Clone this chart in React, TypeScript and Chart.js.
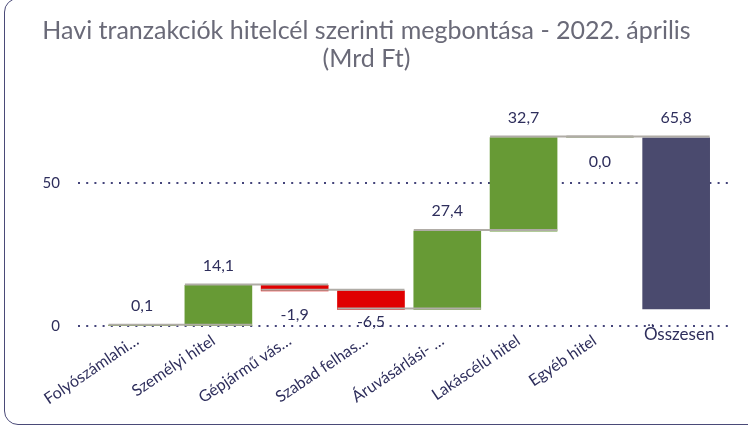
import React, { useEffect, useRef } from "react";
import { Chart, registerables } from "chart.js";

Chart.register(...registerables);

const categories = [
  "Folyószámlahi…",
  "Személyi hitel",
  "Gépjármű vás…",
  "Szabad felhas…",
  "Áruvásárlási- …",
  "Lakáscélú hitel",
  "Egyéb hitel",
  "Összesen",
];
const changes = [0.1, 14.1, -1.9, -6.5, 27.4, 32.7, 0.0];
const totalValue = 65.8;
const totalBase = 6.0;
const valueLabels = ["0,1", "14,1", "-1,9", "-6,5", "27,4", "32,7", "0,0", "65,8"];
const titleLines = [
  "Havi tranzakciók hitelcél szerinti megbontása - 2022. április",
  "(Mrd Ft)",
];

const ranges: [number, number][] = [];
{
  let run = 0;
  for (const c of changes) {
    ranges.push([run, run + c]);
    run += c;
  }
  ranges.push([totalBase, totalValue]);
}

const colorUp = "#679a35";
const colorDown = "#e00000";
const colorTotal = "#4a4a6e";
const textColor = "#2e2e5c";
const connectorColor = "#b0aca6";
const FONT = "Lato";

const barColors = ranges.map((_, i) =>
  i === ranges.length - 1 ? colorTotal : changes[i] < 0 ? colorDown : colorUp
);

const extras = {
  id: "waterfallExtras",
  afterDatasetsDraw(chart: any) {
    const ctx = chart.ctx as CanvasRenderingContext2D;
    const bars = chart.getDatasetMeta(0).data as any[];
    const ys = chart.scales.y;
    const zeroPx = ys.getPixelForValue(0);

    // connector lines
    ctx.save();
    ctx.strokeStyle = connectorColor;
    ctx.lineWidth = 2;
    for (let i = 0; i < changes.length; i++) {
      const level = ranges[i][1];
      const y = ys.getPixelForValue(level) - 1;
      const x0 = bars[i].x - bars[i].width / 2;
      const x1 = bars[i + 1].x + bars[i + 1].width / 2;
      ctx.beginPath();
      ctx.moveTo(x0, y);
      ctx.lineTo(x1, y);
      ctx.stroke();
    }
    ctx.restore();

    // value labels
    ctx.save();
    ctx.font = `16px ${FONT}`;
    ctx.fillStyle = textColor;
    ctx.textAlign = "center";
    ctx.textBaseline = "middle";
    for (let i = 0; i < ranges.length; i++) {
      const [a, b] = ranges[i];
      const up = i === ranges.length - 1 || changes[i] > 0;
      const top = ys.getPixelForValue(Math.max(a, b));
      const bottom = ys.getPixelForValue(Math.min(a, b));
      const y = up ? top - 20 : Math.min(bottom + 24, zeroPx - 4);
      ctx.fillText(valueLabels[i], bars[i].x, y);
    }
    ctx.restore();

    // category labels
    ctx.save();
    ctx.fillStyle = textColor;
    ctx.font = `16px ${FONT}`;
    for (let i = 0; i < categories.length - 1; i++) {
      ctx.save();
      ctx.translate(bars[i].x - 5, zeroPx + 13);
      ctx.rotate((-34 * Math.PI) / 180);
      ctx.textAlign = "right";
      ctx.textBaseline = "middle";
      ctx.fillText(categories[i], 0, 0);
      ctx.restore();
    }
    const last = categories.length - 1;
    ctx.font = `17px ${FONT}`;
    ctx.textAlign = "center";
    ctx.textBaseline = "top";
    ctx.fillText(categories[last], bars[last].x + 3, zeroPx);
    ctx.restore();
  },
};

export default function App() {
  const canvasRef = useRef<HTMLCanvasElement | null>(null);

  useEffect(() => {
    if (!canvasRef.current) return;
    Chart.defaults.font.family = FONT;
    const chart = new Chart(canvasRef.current, {
      type: "bar",
      data: {
        datasets: [
          {
            data: ranges.map((r, i) => ({ x: i, y: r })) as any,
            backgroundColor: barColors,
            borderWidth: 0,
            barThickness: 67,
          },
        ],
      },
      options: {
        animation: false,
        responsive: false,
        layout: { padding: { left: 0, right: 15, top: 0, bottom: 100 } },
        plugins: {
          legend: { display: false },
          tooltip: { enabled: false },
          title: {
            display: true,
            text: titleLines,
            color: "#6a6a78",
            font: { family: FONT, size: 25, weight: "normal", lineHeight: 1.13 },
            padding: { top: 17, bottom: 23.7 },
          },
        },
        scales: {
          x: {
            type: "linear",
            min: -0.84,
            max: 7.745,
            offset: false,
            display: false,
            ticks: { stepSize: 1, includeBounds: false },
          },
          y: {
            min: 0,
            max: 80,
            afterFit: (scale: any) => {
              scale.width = 78;
            },
            ticks: {
              stepSize: 50,
              includeBounds: false,
              padding: 18,
              color: textColor,
              font: { family: FONT, size: 15 },
            },
            grid: {
              color: "#44447a",
              lineWidth: 2,
              drawTicks: false,
            },
            border: { display: false, dash: [2, 6.2] },
          },
        },
      },
      plugins: [extras],
    });
    return () => chart.destroy();
  }, []);

  return (
    <div
      style={{
        position: "fixed",
        left: 0,
        top: 0,
        width: 748,
        height: 426,
        overflow: "hidden",
        background: "#ffffff",
      }}
    >
      <canvas
        ref={canvasRef}
        width={748}
        height={426}
        style={{ position: "absolute", left: 0, top: 0, width: 748, height: 426 }}
      />
      <div
        style={{
          position: "absolute",
          left: 4,
          top: -2,
          width: 770,
          height: 427,
          boxSizing: "border-box",
          border: "1.5px solid #4a4a78",
          borderRadius: 14,
          pointerEvents: "none",
        }}
      />
    </div>
  );
}
